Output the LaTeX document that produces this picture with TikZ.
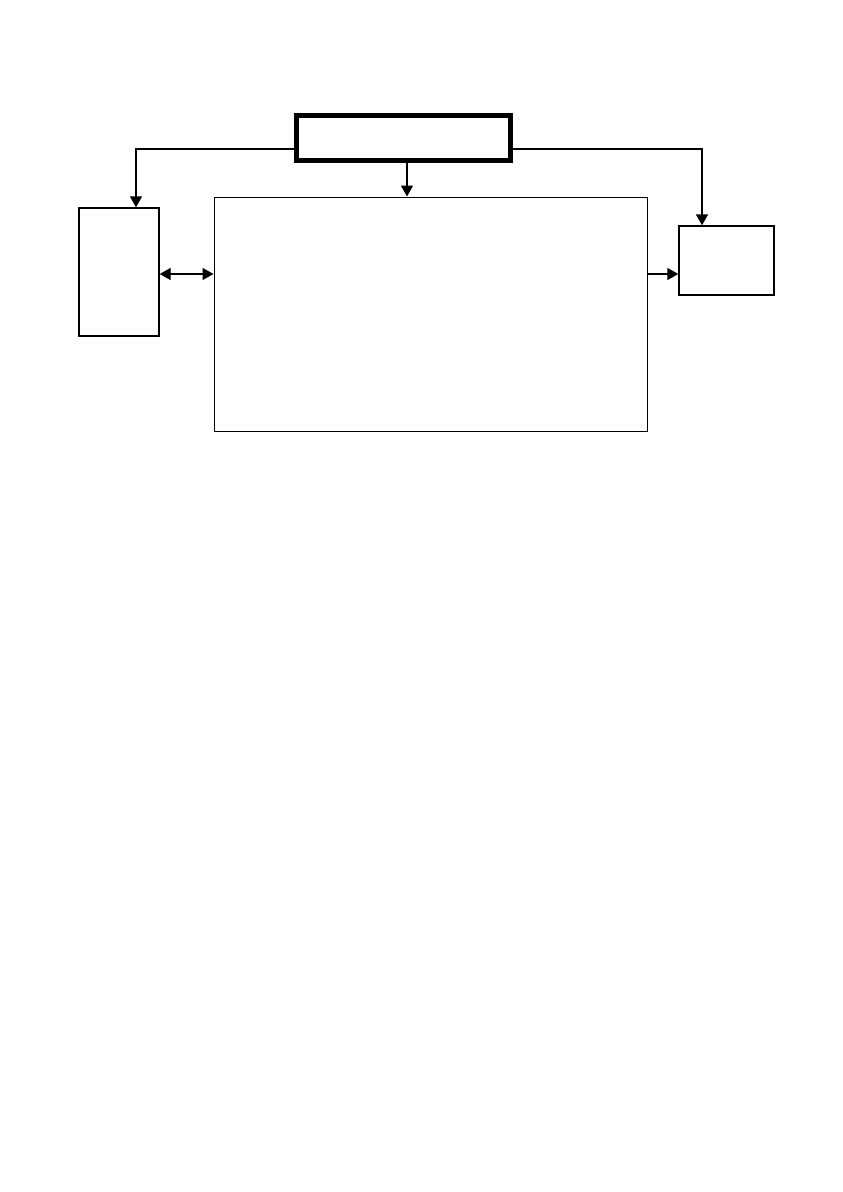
\documentclass[tikz,border=0pt]{standalone}
\usetikzlibrary{arrows.meta}
\begin{document}
\begin{tikzpicture}[x=1pt,y=-1pt,
  tip/.style={-{Triangle[width=12pt,length=11pt]}},
  bitip/.style={{Triangle[width=12pt,length=11pt]}-{Triangle[width=12pt,length=11pt]}},
  conn/.style={line width=1.4pt},
  boxa/.style={draw, line width=1.4pt, inner sep=0pt}]
\useasboundingbox[fill=white] (0,0) rectangle (843,1192);
\node[draw, line width=5pt, minimum width=214pt, minimum height=45pt, inner sep=0pt] (top) at (403.5,138) {};
\node[boxa, minimum width=80pt, minimum height=128pt] (left) at (119,272) {};
\node[draw, line width=1pt, minimum width=433pt, minimum height=234pt, inner sep=0pt] (main) at (430.5,314) {};
\node[boxa, minimum width=95pt, minimum height=69pt] (right) at (726.5,260.5) {};
\coordinate (lc) at (136,149);
\coordinate (rc) at (702,149);
\draw[conn, tip] (top.west |- lc) -- (lc) -- (left.north -| lc);
\draw[conn, tip] (top.east |- rc) -- (rc) -- (right.north -| rc);
\draw[conn, tip] (top.south -| 407,0) -- (main.north -| 407,0);
\draw[conn, bitip] (left.east |- 0,274) -- (main.west |- 0,274);
\draw[conn, tip] (main.east |- 0,274) -- (right.west |- 0,274);
\end{tikzpicture}
\end{document}
